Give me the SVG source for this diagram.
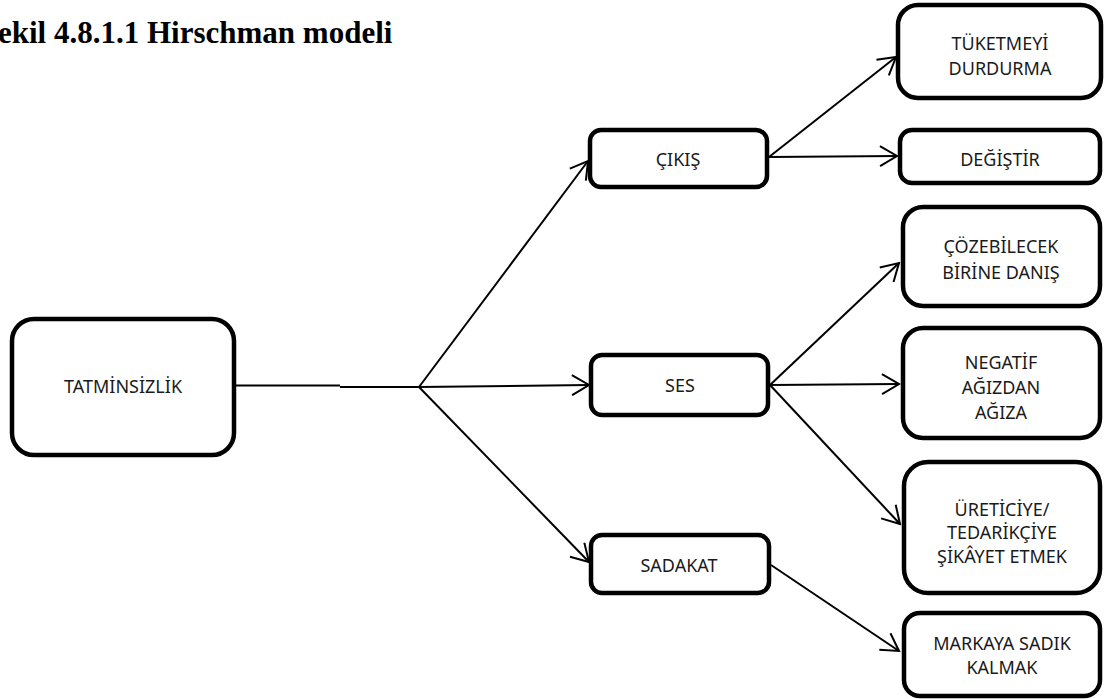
<svg xmlns="http://www.w3.org/2000/svg" width="1108" height="699" viewBox="0 0 1108 699">
  <style>
    .box { fill: #ffffff; stroke: #000000; stroke-width: 4.5; }
    .lbl { font-family: "Noto Sans", "Open Sans", sans-serif; font-size: 18px; fill: #1a1a1a; text-anchor: middle; }
    .title { font-family: "Liberation Serif", "Times New Roman", serif; font-size: 31px; font-weight: bold; fill: #000000; }
    .wire { fill: none; stroke: #000000; stroke-width: 2; }
    .arrow { marker-end: url(#open-arrow); }
  </style>
  <defs>
    <marker id="open-arrow" markerUnits="userSpaceOnUse" markerWidth="20" markerHeight="22" viewBox="0 0 20 22" refX="18" refY="11" orient="auto">
      <path d="M1,1 L18,11 L1,21" fill="none" stroke="#000000" stroke-width="2"/>
    </marker>
  </defs>

  <rect width="1108" height="699" fill="#ffffff"/>

  <text class="title" x="-2" y="43">ekil 4.8.1.1 Hirschman modeli</text>

  <!-- connectors -->
  <g id="connectors">
    <line class="wire" x1="236" y1="385.5" x2="340" y2="385.5"/>
    <line class="wire" x1="340" y1="387" x2="419" y2="387"/>
    <line class="wire arrow" x1="419" y1="387" x2="588" y2="161"/>
    <line class="wire arrow" x1="419" y1="387" x2="589" y2="385"/>
    <line class="wire arrow" x1="419" y1="387" x2="589" y2="562"/>
    <line class="wire arrow" x1="769" y1="157" x2="896" y2="57"/>
    <line class="wire arrow" x1="769" y1="157" x2="897" y2="156"/>
    <line class="wire arrow" x1="770" y1="385" x2="899" y2="263"/>
    <line class="wire arrow" x1="770" y1="385" x2="899" y2="384"/>
    <line class="wire arrow" x1="770" y1="385" x2="900" y2="524"/>
    <line class="wire arrow" x1="771" y1="565" x2="899" y2="651"/>
  </g>

  <g id="n-tatminsizlik">
    <rect class="box" x="12" y="319" width="222" height="136" rx="22"/>
    <text class="lbl" x="123" y="393">TATMİNSİZLİK</text>
  </g>

  <g id="n-cikis">
    <rect class="box" x="590" y="130" width="177" height="57" rx="11"/>
    <text class="lbl" x="678" y="166">ÇIKIŞ</text>
  </g>

  <g id="n-ses">
    <rect class="box" x="591" y="355" width="177" height="60" rx="11"/>
    <text class="lbl" x="680" y="392">SES</text>
  </g>

  <g id="n-sadakat">
    <rect class="box" x="591" y="535" width="178" height="58" rx="11"/>
    <text class="lbl" x="679" y="572">SADAKAT</text>
  </g>

  <g id="n-tuketmeyi">
    <rect class="box" x="898" y="5" width="203" height="93" rx="20"/>
    <text class="lbl" x="1000" y="50">TÜKETMEYİ</text>
    <text class="lbl" x="1000" y="75">DURDURMA</text>
  </g>

  <g id="n-degistir">
    <rect class="box" x="900" y="130" width="200" height="53" rx="12"/>
    <text class="lbl" x="1000" y="166">DEĞİŞTİR</text>
  </g>

  <g id="n-cozebilecek">
    <rect class="box" x="903" y="207" width="197" height="99" rx="20"/>
    <text class="lbl" x="1001" y="253">ÇÖZEBİLECEK</text>
    <text class="lbl" x="1001" y="279">BİRİNE DANIŞ</text>
  </g>

  <g id="n-negatif">
    <rect class="box" x="903" y="328" width="197" height="110" rx="20"/>
    <text class="lbl" x="1001" y="369">NEGATİF</text>
    <text class="lbl" x="1001" y="394">AĞIZDAN</text>
    <text class="lbl" x="1001" y="419">AĞIZA</text>
  </g>

  <g id="n-ureticiye">
    <rect class="box" x="904" y="462" width="196" height="131" rx="24"/>
    <text class="lbl" x="1002" y="516">ÜRETİCİYE/</text>
    <text class="lbl" x="1002" y="539">TEDARİKÇİYE</text>
    <text class="lbl" x="1002" y="563">ŞİKÂYET ETMEK</text>
  </g>

  <g id="n-markaya">
    <rect class="box" x="904" y="613" width="196" height="83" rx="16"/>
    <text class="lbl" x="1002" y="650">MARKAYA SADIK</text>
    <text class="lbl" x="1002" y="674">KALMAK</text>
  </g>
</svg>
